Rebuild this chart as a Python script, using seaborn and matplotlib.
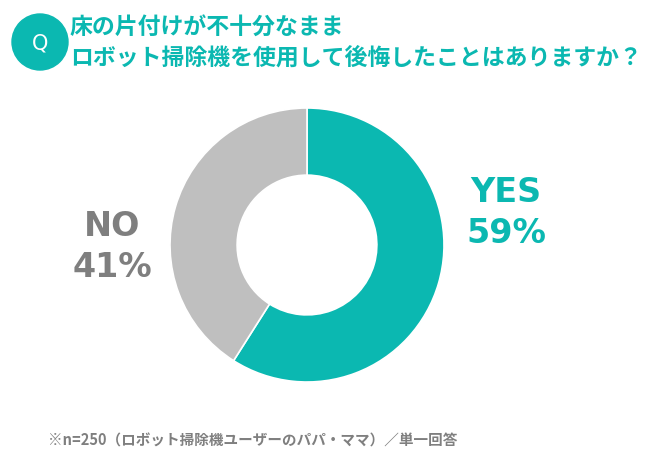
import matplotlib
matplotlib.use("Agg")
import matplotlib.pyplot as plt
from matplotlib.patches import Circle
import seaborn as sns

labels = ["YES", "NO"]
values = [59, 41]
colors = ["#0BB8B1", "#BFBFBF"]
label_colors = ["#0BB8B1", "#7F7F7F"]
title_lines = ["床の片付けが不十分なまま", "ロボット掃除機を使用して後悔したことはありますか？"]
footnote = "※n=250（ロボット掃除機ユーザーのパパ・ママ）／単一回答"

sns.set_theme(style="white")
plt.rcParams['font.family'] = ['Noto Sans CJK JP', 'DejaVu Sans']

W, H = 650, 465
fig = plt.figure(figsize=(W / 100, H / 100), dpi=100)
fig.patch.set_facecolor("white")

cx, cy, r = 307, 245, 137
ax = fig.add_axes([(cx - r) / W, (H - cy - r) / H, 2 * r / W, 2 * r / H])
wedges, _ = ax.pie(values, colors=colors, startangle=90, counterclock=False,
                   wedgeprops=dict(width=0.49, edgecolor="white", linewidth=1.2))
ax.set_xlim(-1, 1)
ax.set_ylim(-1, 1)
ax.set_aspect("equal")
ax.axis("off")

# labels
pos = {"YES": (506, 213), "NO": (112, 247)}
for lab, v, c in zip(labels, values, label_colors):
    x, y = pos[lab]
    fig.text(x / W, 1 - y / H, f"{lab}\n{v}%", ha="center", va="center",
             fontsize=24, fontweight="bold", color=c, linespacing=1.3,
             family=['DejaVu Sans'])

# Q circle
ovl = fig.add_axes([0, 0, 1, 1], zorder=5)
ovl.set_xlim(0, W)
ovl.set_ylim(H, 0)
ovl.axis("off")
ovl.add_patch(Circle((40, 42), 28, color="#0BB8B1"))
ovl.text(40, 43, "Q", ha="center", va="center", fontsize=15, color="white",
         family=['DejaVu Sans'])

ovl.text(70, 27, title_lines[0], ha="left", va="center", fontsize=16.5,
         fontweight="bold", color="#0BB8B1")
ovl.text(70, 58, title_lines[1], ha="left", va="center", fontsize=16.5,
         fontweight="bold", color="#0BB8B1")

ovl.text(48, 441, footnote, ha="left", va="center", fontsize=10.5,
         fontweight="bold", color="#7F7F7F")

fig.savefig("out.png", dpi=100, facecolor="white")
